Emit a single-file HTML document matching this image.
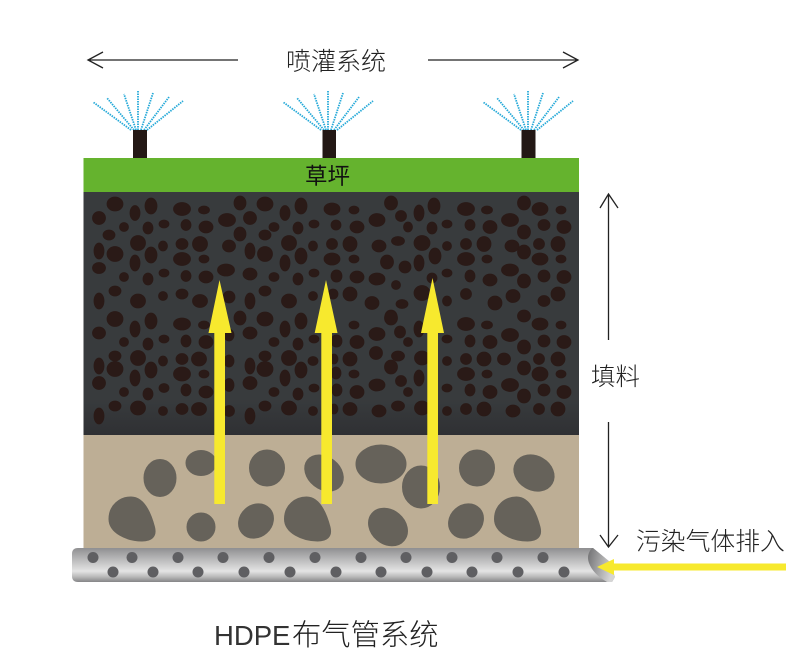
<!DOCTYPE html>
<html><head><meta charset="utf-8"><style>
html,body{margin:0;padding:0;background:#fff}
svg{display:block}
text{font-family:"Liberation Sans","Noto Sans CJK SC",sans-serif;font-weight:300;fill:#222}
</style></head><body>
<svg width="801" height="658" viewBox="0 0 801 658" xmlns="http://www.w3.org/2000/svg">
<defs>
<linearGradient id="pipe" x1="0" y1="0" x2="0" y2="1"><stop offset="0" stop-color="#8f8f91"/><stop offset=".3" stop-color="#b5b5b6"/><stop offset=".68" stop-color="#e4e4e4"/><stop offset=".85" stop-color="#b8b8b8"/><stop offset="1" stop-color="#858587"/></linearGradient>
<linearGradient id="cap" x1="0" y1="0" x2="1" y2=".3"><stop offset="0" stop-color="#707072"/><stop offset="1" stop-color="#d5d5d5"/></linearGradient>
<linearGradient id="soil" x1="0" y1="0" x2="0" y2="1"><stop offset="0" stop-color="#383b3d"/><stop offset=".85" stop-color="#383b3d"/><stop offset="1" stop-color="#2f3033"/></linearGradient>
<g id="spray" fill="none" stroke="#25a9d8" stroke-width="1.8" stroke-dasharray="1.5 1">
<path d="M131 130L93 102M134 130L107 98M136 130L124 94M138 130L138 90M141 130L153 93M144 130L169 97M147 130L183 101"/>
</g>
<path id="egg" d="M109 519C109 505 120 497 131 497C143 497 150 510 154.500 527C157 537 151 541 142 541C127 541 109 533 109 519Z"/>
</defs>

<use href="#spray"/><use href="#spray" x="190"/><use href="#spray" x="390"/>
<g fill="#231815"><rect x="133" y="130" width="14" height="29"/><rect x="322.500" y="130" width="13.500" height="29"/><rect x="521.500" y="130" width="14" height="29"/></g>

<rect x="83.500" y="158" width="495.500" height="35" fill="#65b32e"/>
<rect x="83.500" y="192" width="495.500" height="243.500" fill="url(#soil)"/>
<rect x="83.500" y="435" width="495.500" height="114" fill="#bdae95"/>

<g fill="#2a1a17" stroke="#2a1a17" stroke-width=".8">
<ellipse cx="115" cy="204" rx="8" ry="7"/><ellipse cx="151" cy="206" rx="6" ry="8"/><ellipse cx="135" cy="213" rx="5" ry="7.500"/><ellipse cx="182" cy="209" rx="8.500" ry="6.500"/><ellipse cx="204" cy="210" rx="5.500" ry="4"/><ellipse cx="240" cy="203" rx="6" ry="7"/><ellipse cx="265" cy="204" rx="8" ry="7"/><ellipse cx="301" cy="206" rx="6" ry="8"/><ellipse cx="285" cy="213" rx="5" ry="7.500"/><ellipse cx="332" cy="209" rx="8" ry="6"/>
<ellipse cx="99" cy="218" rx="6.500" ry="6.500"/><ellipse cx="124" cy="227" rx="4.500" ry="4.500"/><ellipse cx="148" cy="228" rx="5" ry="6"/><ellipse cx="164" cy="224" rx="5" ry="4"/><ellipse cx="186" cy="225" rx="5" ry="5.500"/><ellipse cx="206" cy="227" rx="7" ry="6"/><ellipse cx="227" cy="220" rx="8.500" ry="6.500"/><ellipse cx="250" cy="218" rx="6.500" ry="6.500"/><ellipse cx="240" cy="234" rx="6" ry="7"/><ellipse cx="265" cy="235" rx="6" ry="5"/><ellipse cx="274" cy="227" rx="5" ry="4.500"/><ellipse cx="298" cy="228" rx="5" ry="6"/><ellipse cx="314" cy="224" rx="5" ry="4"/><ellipse cx="336" cy="225" rx="5" ry="5"/>
<ellipse cx="109" cy="235" rx="6" ry="5"/><ellipse cx="138" cy="243" rx="7.500" ry="7.500"/><ellipse cx="163" cy="246" rx="4.500" ry="5"/><ellipse cx="182" cy="244" rx="6" ry="5.500"/><ellipse cx="200" cy="244" rx="7.500" ry="7.500"/><ellipse cx="229" cy="246" rx="6.500" ry="6"/><ellipse cx="250" cy="251" rx="5" ry="8"/><ellipse cx="265" cy="254" rx="7.500" ry="7.500"/><ellipse cx="289" cy="243" rx="7.500" ry="7.500"/><ellipse cx="313" cy="246" rx="4.500" ry="5"/><ellipse cx="332" cy="244" rx="5.500" ry="5.500"/>
<ellipse cx="99" cy="251" rx="5" ry="8"/><ellipse cx="115" cy="254" rx="8" ry="7.500"/><ellipse cx="151" cy="255" rx="6" ry="8"/><ellipse cx="135" cy="263" rx="5" ry="8"/><ellipse cx="182" cy="259" rx="8.500" ry="6.500"/><ellipse cx="204" cy="259" rx="5" ry="4"/><ellipse cx="285" cy="263" rx="5" ry="8"/><ellipse cx="301" cy="256" rx="6" ry="8"/><ellipse cx="332" cy="259" rx="8" ry="6"/>
<ellipse cx="99" cy="268" rx="6.500" ry="5.500"/><ellipse cx="124" cy="277" rx="4.500" ry="4.500"/><ellipse cx="148" cy="279" rx="5" ry="6"/><ellipse cx="164" cy="273" rx="5" ry="4"/><ellipse cx="186" cy="276" rx="5" ry="5.500"/><ellipse cx="206" cy="277" rx="7" ry="6"/><ellipse cx="226" cy="270" rx="8.500" ry="6"/><ellipse cx="250" cy="274" rx="7" ry="6"/><ellipse cx="274" cy="277" rx="5" ry="4.500"/><ellipse cx="298" cy="279" rx="5" ry="6"/><ellipse cx="314" cy="273" rx="5" ry="4"/><ellipse cx="336" cy="276" rx="5" ry="6"/>
<ellipse cx="115" cy="291" rx="6" ry="5"/><ellipse cx="99" cy="301" rx="5" ry="8"/><ellipse cx="138" cy="301" rx="7.500" ry="7"/><ellipse cx="163" cy="296" rx="4.500" ry="4.500"/><ellipse cx="182" cy="294" rx="6" ry="5"/><ellipse cx="200" cy="301" rx="7.500" ry="6.500"/><ellipse cx="229" cy="297" rx="6" ry="6"/><ellipse cx="250" cy="301" rx="5" ry="8"/><ellipse cx="265" cy="291" rx="6" ry="5"/><ellipse cx="289" cy="301" rx="7.500" ry="7"/><ellipse cx="313" cy="296" rx="4.500" ry="4.500"/><ellipse cx="333" cy="294" rx="5" ry="5"/>
<ellipse cx="115" cy="319" rx="8" ry="7.500"/><ellipse cx="151" cy="321" rx="6" ry="8"/><ellipse cx="135" cy="329" rx="5" ry="8"/><ellipse cx="182" cy="324" rx="8.500" ry="6"/><ellipse cx="204" cy="325" rx="5.500" ry="4"/><ellipse cx="240" cy="318" rx="6" ry="7"/><ellipse cx="265" cy="319" rx="8" ry="7"/><ellipse cx="285" cy="329" rx="5" ry="8"/><ellipse cx="301" cy="321" rx="6" ry="8"/>
<ellipse cx="99" cy="333" rx="6.500" ry="6"/><ellipse cx="124" cy="342" rx="4.500" ry="4.500"/><ellipse cx="148" cy="344" rx="5" ry="6"/><ellipse cx="164" cy="339" rx="5" ry="4"/><ellipse cx="186" cy="341" rx="5" ry="6"/><ellipse cx="206" cy="342" rx="7" ry="6.500"/><ellipse cx="229" cy="335" rx="5" ry="6"/><ellipse cx="250" cy="333" rx="7" ry="6"/><ellipse cx="274" cy="342" rx="5" ry="4.500"/><ellipse cx="298" cy="344" rx="5" ry="6"/><ellipse cx="314" cy="339" rx="5" ry="4"/><ellipse cx="336" cy="341" rx="5" ry="6"/>
<ellipse cx="115" cy="356" rx="6" ry="5"/><ellipse cx="138" cy="358" rx="7.500" ry="7.500"/><ellipse cx="163" cy="361" rx="4.500" ry="5"/><ellipse cx="182" cy="359" rx="6" ry="5.500"/><ellipse cx="199" cy="359" rx="7.500" ry="7"/><ellipse cx="229" cy="361" rx="5" ry="6"/><ellipse cx="265" cy="356" rx="6" ry="5"/><ellipse cx="289" cy="358" rx="7.500" ry="7.500"/><ellipse cx="313" cy="361" rx="5" ry="4.500"/><ellipse cx="334" cy="359" rx="4" ry="5"/>
<ellipse cx="99" cy="366" rx="5" ry="8"/><ellipse cx="115" cy="369" rx="8" ry="7.500"/><ellipse cx="151" cy="370" rx="6" ry="8"/><ellipse cx="135" cy="378" rx="5" ry="8"/><ellipse cx="182" cy="374" rx="8.500" ry="7"/><ellipse cx="204" cy="374" rx="5" ry="4"/><ellipse cx="250" cy="366" rx="5" ry="8"/><ellipse cx="265" cy="369" rx="8" ry="7.500"/><ellipse cx="301" cy="370" rx="6" ry="8"/><ellipse cx="285" cy="378" rx="5" ry="8"/><ellipse cx="336" cy="373" rx="5" ry="6"/>
<ellipse cx="99" cy="383" rx="6.500" ry="6.500"/><ellipse cx="124" cy="392" rx="4.500" ry="4.500"/><ellipse cx="148" cy="394" rx="5" ry="6"/><ellipse cx="164" cy="388" rx="5" ry="4.500"/><ellipse cx="186" cy="390" rx="5" ry="6"/><ellipse cx="206" cy="392" rx="7" ry="6"/><ellipse cx="229" cy="385" rx="5" ry="6.500"/><ellipse cx="250" cy="383" rx="7" ry="6.500"/><ellipse cx="274" cy="392" rx="5" ry="4.500"/><ellipse cx="298" cy="394" rx="5" ry="6"/><ellipse cx="314" cy="388" rx="5" ry="4"/><ellipse cx="336" cy="390" rx="4" ry="6"/>
<ellipse cx="115" cy="406" rx="6" ry="5"/><ellipse cx="138" cy="408" rx="7.500" ry="7"/><ellipse cx="163" cy="411" rx="4.500" ry="4.500"/><ellipse cx="182" cy="409" rx="6" ry="5.500"/><ellipse cx="199" cy="409" rx="7.500" ry="6.500"/><ellipse cx="229" cy="411" rx="5.500" ry="5.500"/><ellipse cx="265" cy="406" rx="6" ry="5"/><ellipse cx="289" cy="408" rx="7.500" ry="7"/><ellipse cx="313" cy="411" rx="4.500" ry="4.500"/><ellipse cx="334" cy="409" rx="4" ry="5"/><ellipse cx="99" cy="416" rx="5" ry="8"/><ellipse cx="250" cy="416" rx="5" ry="8"/>
<ellipse cx="354" cy="210" rx="5" ry="4"/><ellipse cx="391" cy="203" rx="6.500" ry="7"/><ellipse cx="434" cy="206" rx="6" ry="8"/><ellipse cx="419" cy="213" rx="5" ry="8"/><ellipse cx="401" cy="216" rx="5.500" ry="5.500"/><ellipse cx="377" cy="220" rx="8" ry="6.500"/><ellipse cx="466" cy="209" rx="8.500" ry="6.500"/><ellipse cx="487" cy="210" rx="5.500" ry="4"/><ellipse cx="524" cy="203" rx="6.500" ry="7"/><ellipse cx="540" cy="209" rx="8" ry="6.500"/><ellipse cx="561" cy="210" rx="5" ry="4"/>
<ellipse cx="357" cy="227" rx="7" ry="6"/><ellipse cx="408" cy="227" rx="4.500" ry="5"/><ellipse cx="432" cy="228" rx="5" ry="6"/><ellipse cx="447" cy="224" rx="5" ry="4"/><ellipse cx="470" cy="225" rx="5" ry="5.500"/><ellipse cx="490" cy="227" rx="7" ry="6.500"/><ellipse cx="510" cy="220" rx="8.500" ry="6.500"/><ellipse cx="524" cy="232" rx="6.500" ry="7"/><ellipse cx="544" cy="225" rx="6" ry="5.500"/><ellipse cx="564" cy="227" rx="7" ry="6.500"/>
<ellipse cx="350" cy="244" rx="7" ry="7.500"/><ellipse cx="379" cy="246" rx="7" ry="6"/><ellipse cx="398" cy="241" rx="6.500" ry="4.500"/><ellipse cx="422" cy="243" rx="8" ry="7.500"/><ellipse cx="447" cy="246" rx="4.500" ry="4.500"/><ellipse cx="466" cy="244" rx="5.500" ry="5.500"/><ellipse cx="484" cy="244" rx="7" ry="7.500"/><ellipse cx="512" cy="246" rx="7" ry="6"/><ellipse cx="539" cy="244" rx="5.500" ry="5.500"/><ellipse cx="558" cy="244" rx="7" ry="7.500"/><ellipse cx="524" cy="252" rx="6.500" ry="7"/>
<ellipse cx="354" cy="259" rx="5" ry="4"/><ellipse cx="387" cy="262" rx="6.500" ry="7"/><ellipse cx="405" cy="267" rx="6" ry="6"/><ellipse cx="419" cy="263" rx="5" ry="8"/><ellipse cx="435" cy="256" rx="6" ry="8"/><ellipse cx="466" cy="259" rx="8.500" ry="6.500"/><ellipse cx="487" cy="259" rx="5" ry="4"/><ellipse cx="540" cy="259" rx="8" ry="6"/><ellipse cx="561" cy="259" rx="5" ry="4"/>
<ellipse cx="337" cy="276" rx="5" ry="6"/><ellipse cx="357" cy="277" rx="7" ry="6"/><ellipse cx="377" cy="279" rx="8" ry="6"/><ellipse cx="396" cy="285" rx="4.500" ry="4.500"/><ellipse cx="432" cy="278" rx="5" ry="5"/><ellipse cx="447" cy="273" rx="5" ry="4"/><ellipse cx="470" cy="276" rx="5" ry="6"/><ellipse cx="490" cy="280" rx="7" ry="6"/><ellipse cx="510" cy="270" rx="8.500" ry="6"/><ellipse cx="524" cy="281" rx="6.500" ry="7"/><ellipse cx="544" cy="276" rx="6" ry="6"/><ellipse cx="564" cy="277" rx="7" ry="6.500"/>
<ellipse cx="350" cy="294" rx="7" ry="7"/><ellipse cx="372" cy="303" rx="7" ry="6.500"/><ellipse cx="402" cy="304" rx="6" ry="4.500"/><ellipse cx="422" cy="293" rx="8" ry="7.500"/><ellipse cx="447" cy="301" rx="4.500" ry="5"/><ellipse cx="466" cy="294" rx="5.500" ry="5.500"/><ellipse cx="495" cy="303" rx="7" ry="7"/><ellipse cx="513" cy="296" rx="7" ry="6.500"/><ellipse cx="544" cy="301" rx="6" ry="5.500"/><ellipse cx="558" cy="294" rx="7" ry="7"/><ellipse cx="391" cy="316" rx="6" ry="6"/><ellipse cx="524" cy="316" rx="6.500" ry="6"/>
<ellipse cx="354" cy="325" rx="5" ry="4"/><ellipse cx="391" cy="318" rx="6.500" ry="7"/><ellipse cx="377" cy="334" rx="8" ry="6.500"/><ellipse cx="400" cy="332" rx="5.500" ry="6"/><ellipse cx="408" cy="342" rx="4.500" ry="4.500"/><ellipse cx="419" cy="329" rx="5" ry="8"/><ellipse cx="466" cy="324" rx="8.500" ry="6.500"/><ellipse cx="487" cy="325" rx="5.500" ry="4"/><ellipse cx="540" cy="324" rx="8" ry="6"/><ellipse cx="561" cy="325" rx="5" ry="4"/>
<ellipse cx="337" cy="341" rx="5" ry="6"/><ellipse cx="357" cy="342" rx="7" ry="6.500"/><ellipse cx="447" cy="339" rx="5" ry="4"/><ellipse cx="470" cy="341" rx="5" ry="6"/><ellipse cx="490" cy="342" rx="7" ry="6.500"/><ellipse cx="510" cy="335" rx="8.500" ry="6.500"/><ellipse cx="524" cy="347" rx="6.500" ry="7"/><ellipse cx="544" cy="341" rx="6" ry="6"/><ellipse cx="564" cy="342" rx="7" ry="6.500"/>
<ellipse cx="350" cy="359" rx="7" ry="7"/><ellipse cx="376" cy="353" rx="6.500" ry="6.500"/><ellipse cx="398" cy="356" rx="6.500" ry="5"/><ellipse cx="422" cy="358" rx="7.500" ry="7"/><ellipse cx="447" cy="361" rx="4.500" ry="4.500"/><ellipse cx="466" cy="359" rx="5.500" ry="5.500"/><ellipse cx="484" cy="359" rx="7" ry="7"/><ellipse cx="504" cy="359" rx="6.500" ry="6"/><ellipse cx="524" cy="368" rx="6.500" ry="7"/><ellipse cx="539" cy="359" rx="5.500" ry="5.500"/><ellipse cx="558" cy="359" rx="7" ry="7"/>
<ellipse cx="354" cy="374" rx="5" ry="4"/><ellipse cx="391" cy="367" rx="6.500" ry="7"/><ellipse cx="419" cy="378" rx="5" ry="8"/><ellipse cx="377" cy="385" rx="8" ry="6"/><ellipse cx="401" cy="381" rx="5.500" ry="5.500"/><ellipse cx="408" cy="392" rx="4.500" ry="4.500"/><ellipse cx="466" cy="374" rx="8.500" ry="6.500"/><ellipse cx="487" cy="374" rx="5" ry="4"/><ellipse cx="540" cy="374" rx="8" ry="7"/><ellipse cx="561" cy="374" rx="5" ry="4"/><ellipse cx="510" cy="385" rx="8.500" ry="6.500"/>
<ellipse cx="337" cy="390" rx="5" ry="6"/><ellipse cx="357" cy="392" rx="7" ry="6.500"/><ellipse cx="447" cy="388" rx="5" ry="4"/><ellipse cx="470" cy="390" rx="5" ry="6"/><ellipse cx="490" cy="392" rx="7" ry="6.500"/><ellipse cx="524" cy="396" rx="6.500" ry="7"/><ellipse cx="544" cy="390" rx="6" ry="6"/><ellipse cx="564" cy="392" rx="7" ry="6.500"/>
<ellipse cx="350" cy="409" rx="7" ry="6.500"/><ellipse cx="379" cy="411" rx="7" ry="6"/><ellipse cx="398" cy="406" rx="6.500" ry="5"/><ellipse cx="422" cy="408" rx="7.500" ry="7"/><ellipse cx="447" cy="411" rx="4.500" ry="4.500"/><ellipse cx="466" cy="409" rx="5.500" ry="5.500"/><ellipse cx="484" cy="409" rx="7" ry="7"/><ellipse cx="513" cy="411" rx="7" ry="6"/><ellipse cx="539" cy="409" rx="5.500" ry="5.500"/><ellipse cx="558" cy="409" rx="7" ry="7"/>
</g>

<g fill="#66625a" stroke="#66625a" stroke-width="1">
<ellipse cx="160" cy="478" rx="16" ry="18.500"/><ellipse cx="201" cy="463" rx="15" ry="12.500"/><ellipse cx="267" cy="468" rx="17.500" ry="18"/><ellipse cx="324" cy="473" rx="21" ry="16" transform="rotate(38 324 473)"/>
<use href="#egg"/><ellipse cx="201" cy="527" rx="14" ry="14"/><ellipse cx="256" cy="521" rx="18.500" ry="16" transform="rotate(-42 256 521)"/><use href="#egg" x="175.500"/>
<ellipse cx="381" cy="464" rx="25" ry="19"/><ellipse cx="421" cy="487" rx="18.500" ry="21"/><ellipse cx="477" cy="468" rx="17.500" ry="18"/><ellipse cx="534" cy="473" rx="21" ry="17" transform="rotate(30 534 473)"/>
<ellipse cx="388" cy="527" rx="21" ry="17" transform="rotate(40 388 527)"/><ellipse cx="466" cy="521" rx="18.500" ry="16" transform="rotate(-42 466 521)"/><use href="#egg" x="385.500"/>
</g>

<g fill="#f7e92e">
<path d="M219.500 280L231.500 333H225V504H214.300V333H208.500Z"/>
<path d="M326 280L337.500 333H332V504H321.300V333H314.700Z"/>
<path d="M432.500 278L444 333H438V504H427.300V333H421Z"/>
</g>

<path d="M78 548H593L610 562L615 577L612 582H78Q72 582 72 576V554Q72 548 78 548Z" fill="url(#pipe)"/>
<path d="M592 548Q586 555 589 563Q593 574 607 582H612L615 577L610 562L593 548Z" fill="url(#cap)"/>
<g fill="#5f5f62">
<circle cx="93" cy="557.500" r="5.500"/><circle cx="132" cy="557.500" r="5.500"/><circle cx="178" cy="557.500" r="5.500"/><circle cx="223" cy="557.500" r="5.500"/><circle cx="269" cy="557.500" r="5.500"/><circle cx="315" cy="557.500" r="5.500"/><circle cx="361" cy="557.500" r="5.500"/><circle cx="406" cy="557.500" r="5.500"/><circle cx="452" cy="557.500" r="5.500"/><circle cx="497" cy="557.500" r="5.500"/><circle cx="543" cy="557.500" r="5.500"/>
<circle cx="113" cy="572" r="5.500"/><circle cx="153" cy="572" r="5.500"/><circle cx="198" cy="572" r="5.500"/><circle cx="244" cy="572" r="5.500"/><circle cx="290" cy="572" r="5.500"/><circle cx="336" cy="572" r="5.500"/><circle cx="381" cy="572" r="5.500"/><circle cx="427" cy="572" r="5.500"/><circle cx="472" cy="572" r="5.500"/><circle cx="518" cy="572" r="5.500"/><circle cx="564" cy="572" r="5.500"/>
</g>
<path d="M597 567L614 559V563.500H786V570.500H614V575Z" fill="#f7e92e"/>

<g fill="none" stroke="#222" stroke-width="1.300">
<path d="M88 60H238M103 52L88 60L103 68"/>
<path d="M428 60H578M563 52L578 60L563 68"/>
<path d="M608.500 194V340M600 208L608.500 194L618 208"/>
<path d="M608.500 422V547M600 535L608.500 547L618 535"/>
</g>

<text x="286" y="70" font-size="25">喷灌系统</text>
<text x="305" y="184" font-size="22.500" style="fill:#111;font-weight:400">草坪</text>
<text x="591" y="385" font-size="24.500">填料</text>
<text x="636" y="550" font-size="24.800">污染气体排入</text>
<text x="214" y="645" font-size="27.500" style="fill:#333">HDPE</text>
<text x="292" y="645" font-size="29.300">布气管系统</text>
</svg>
</body></html>
